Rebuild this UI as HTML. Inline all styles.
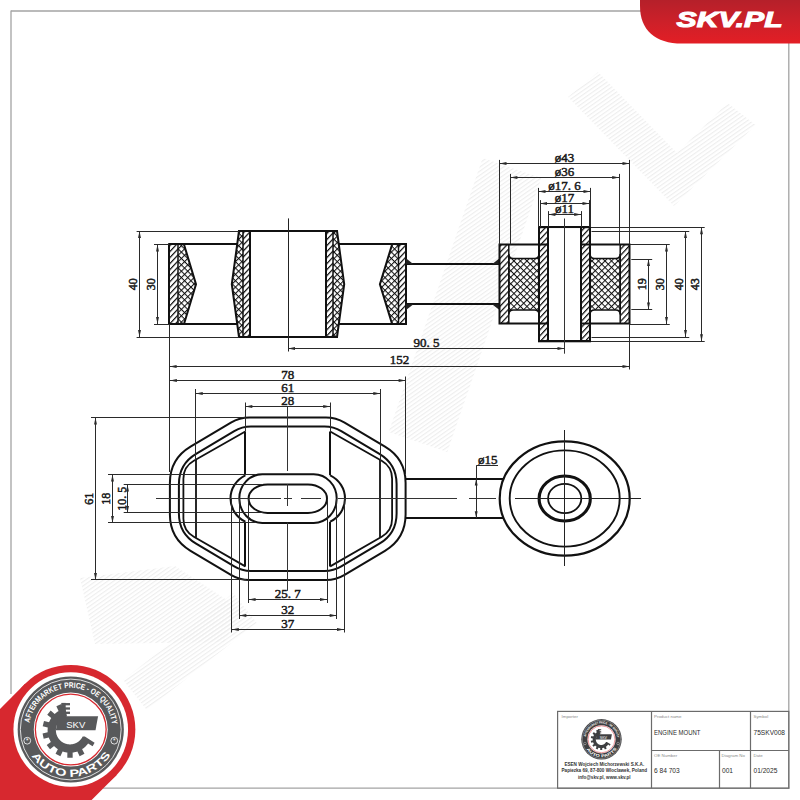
<!DOCTYPE html>
<html><head><meta charset="utf-8"><style>
html,body{margin:0;padding:0;background:#fff;}
svg{display:block;}
</style></head><body>
<svg width="800" height="800" viewBox="0 0 800 800">
<defs>
<pattern id="hatch" patternUnits="userSpaceOnUse" width="4.1" height="4.1" patternTransform="rotate(43)">
<rect width="4.1" height="4.1" fill="#fff"/><line x1="0.6" y1="0" x2="0.6" y2="4.1" stroke="#111" stroke-width="1.25"/></pattern>
<pattern id="xh1" patternUnits="userSpaceOnUse" width="4.5" height="4.5" patternTransform="rotate(45)">
<rect width="4.5" height="4.5" fill="#fff"/><line x1="0.5" y1="0" x2="0.5" y2="4.5" stroke="#111" stroke-width="1.1"/><line x1="0" y1="0.5" x2="4.5" y2="0.5" stroke="#111" stroke-width="1.1"/></pattern>
<pattern id="xh2" patternUnits="userSpaceOnUse" width="4.6" height="4.6" patternTransform="rotate(45)">
<rect width="4.6" height="4.6" fill="#fff"/><line x1="0.5" y1="0" x2="0.5" y2="4.6" stroke="#111" stroke-width="1.05"/><line x1="0" y1="0.5" x2="4.6" y2="0.5" stroke="#111" stroke-width="1.05"/></pattern>
<pattern id="wm" patternUnits="userSpaceOnUse" width="3.4" height="3.4" patternTransform="rotate(55)">
<line x1="0.6" y1="0" x2="0.6" y2="3.4" stroke="#ededed" stroke-width="1.1"/></pattern>
<linearGradient id="redg" x1="0" y1="0" x2="0" y2="1">
<stop offset="0" stop-color="#b5202a"/><stop offset="0.55" stop-color="#cf2029"/><stop offset="1" stop-color="#e31e25"/></linearGradient>
</defs>
<rect width="800" height="800" fill="#fff"/>
<polygon points="568,97 598,72 677,153 727.5,103 755.6,125 674,206" fill="url(#wm)"/>
<polyline points="512,168 418,442" fill="none" stroke="url(#wm)" stroke-width="62"/>
<polygon points="80,578 175,566 242,610 224,642 95,644" fill="url(#wm)"/>
<polyline points="135,695 245,608" fill="none" stroke="url(#wm)" stroke-width="38"/>
<line x1="11.00" y1="11.00" x2="641.00" y2="11.00" stroke="#a3a3a3" stroke-width="1.3" />
<line x1="11.00" y1="10.40" x2="11.00" y2="694.00" stroke="#a3a3a3" stroke-width="1.3" />
<line x1="788.80" y1="43.00" x2="788.80" y2="788.60" stroke="#a3a3a3" stroke-width="1.3" />
<line x1="103.00" y1="788.20" x2="789.40" y2="788.20" stroke="#a3a3a3" stroke-width="1.3" />
<path d="M640,0 L800,0 L800,43.6 L682,43.6 C655,43.6 640,30 640,6 Z" fill="url(#redg)"/>
<text x="729.6" y="27.2" font-size="22.8" font-weight="bold" font-style="italic" fill="#fff" stroke="#fff" stroke-width="1.1" text-anchor="middle" style="font-family:&quot;Liberation Sans&quot;,sans-serif" textLength="106" lengthAdjust="spacingAndGlyphs">SKV.PL</text>
<rect x="169.4" y="244.5" width="8.6" height="79.5" fill="url(#hatch)"/>
<polygon points="178.00,244.50 184.00,244.50 196.00,284.20 184.00,324.00 178.00,324.00" fill="url(#xh1)" stroke="none" stroke-width="0"/>
<line x1="169.00" y1="243.50" x2="169.00" y2="325.00" stroke="#111" stroke-width="2.0" />
<line x1="178.00" y1="244.50" x2="178.00" y2="324.00" stroke="#111" stroke-width="1.5" />
<path d="M184,244.5 L196,284.2 L184,324" stroke="#111" stroke-width="2.0" fill="none" />
<line x1="168.40" y1="244.00" x2="237.30" y2="244.00" stroke="#111" stroke-width="2.0" />
<line x1="168.40" y1="324.00" x2="237.30" y2="324.00" stroke="#111" stroke-width="2.0" />
<polygon points="239.00,231.00 243.00,231.00 243.00,337.00 239.00,337.00 231.80,284.20" fill="url(#xh1)" stroke="none" stroke-width="0"/>
<rect x="243" y="231" width="6.5" height="106" fill="url(#hatch)"/>
<rect x="326.5" y="231" width="6.5" height="106" fill="url(#hatch)"/>
<polygon points="333.00,231.00 337.00,231.00 344.20,284.20 337.00,337.00 333.00,337.00" fill="url(#xh1)" stroke="none" stroke-width="0"/>
<path d="M239,231 L231.8,284.2 L239,337" stroke="#111" stroke-width="2.0" fill="none" />
<path d="M337,231 L344.2,284.2 L337,337" stroke="#111" stroke-width="2.0" fill="none" />
<line x1="238.00" y1="231.00" x2="338.00" y2="231.00" stroke="#111" stroke-width="2.0" />
<line x1="238.00" y1="337.00" x2="338.00" y2="337.00" stroke="#111" stroke-width="2.0" />
<line x1="243.00" y1="231.00" x2="243.00" y2="337.00" stroke="#111" stroke-width="1.5" />
<line x1="333.00" y1="231.00" x2="333.00" y2="337.00" stroke="#111" stroke-width="1.5" />
<line x1="250.00" y1="231.00" x2="250.00" y2="337.00" stroke="#111" stroke-width="2.0" />
<line x1="326.00" y1="231.00" x2="326.00" y2="337.00" stroke="#111" stroke-width="2.0" />
<polygon points="392.10,244.50 398.50,244.50 398.50,324.00 392.10,324.00 379.90,284.20" fill="url(#xh1)" stroke="none" stroke-width="0"/>
<rect x="398.5" y="244.5" width="7.5" height="79.5" fill="url(#hatch)"/>
<path d="M392.1,244.5 L379.9,284.2 L392.1,324" stroke="#111" stroke-width="2.0" fill="none" />
<line x1="398.50" y1="244.50" x2="398.50" y2="324.00" stroke="#111" stroke-width="1.5" />
<line x1="338.80" y1="244.00" x2="407.00" y2="244.00" stroke="#111" stroke-width="2.0" />
<line x1="338.80" y1="324.00" x2="407.00" y2="324.00" stroke="#111" stroke-width="2.0" />
<line x1="406.00" y1="243.50" x2="406.00" y2="325.00" stroke="#111" stroke-width="2.0" />
<line x1="406.00" y1="264.00" x2="499.50" y2="264.00" stroke="#111" stroke-width="2.0" />
<line x1="406.00" y1="304.00" x2="499.50" y2="304.00" stroke="#111" stroke-width="2.0" />
<polygon points="406.00,258.30 406.00,264.20 413.50,264.20" fill="#222" stroke="none" stroke-width="0"/>
<polygon points="406.00,310.10 406.00,304.20 413.50,304.20" fill="#222" stroke="none" stroke-width="0"/>
<polygon points="499.50,258.30 499.50,264.20 492.00,264.20" fill="#222" stroke="none" stroke-width="0"/>
<polygon points="499.50,310.10 499.50,304.20 492.00,304.20" fill="#222" stroke="none" stroke-width="0"/>
<rect x="499.5" y="244.5" width="9.3" height="79" fill="url(#hatch)"/>
<rect x="620.2" y="244.5" width="9.3" height="79" fill="url(#hatch)"/>
<rect x="539" y="227.2" width="9.2" height="114.1" fill="url(#hatch)"/>
<rect x="580.8" y="227.2" width="9.2" height="114.1" fill="url(#hatch)"/>
<path d="M508.8,254 Q508.8,258.5 513.3,258.5 L534.5,258.5 Q539,258.5 539,254 L539,314.5 Q539,310 534.5,310 L513.3,310 Q508.8,310 508.8,314.5 Z" fill="url(#xh2)" stroke="#111" stroke-width="1.6"/>
<path d="M590,254 Q590,258.5 594.5,258.5 L615.7,258.5 Q620.2,258.5 620.2,254 L620.2,314.5 Q620.2,310 615.7,310 L594.5,310 Q590,310 590,314.5 Z" fill="url(#xh2)" stroke="#111" stroke-width="1.6"/>
<rect x="499.5" y="244.5" width="130" height="79" fill="none" stroke="#111" stroke-width="2"/>
<line x1="508.80" y1="244.50" x2="508.80" y2="323.50" stroke="#111" stroke-width="1.5" />
<line x1="620.20" y1="244.50" x2="620.20" y2="323.50" stroke="#111" stroke-width="1.5" />
<rect x="539" y="227.2" width="51" height="114.1" fill="#fff" fill-opacity="0" stroke="#111" stroke-width="2"/>
<line x1="548.00" y1="227.20" x2="548.00" y2="341.30" stroke="#111" stroke-width="2.0" />
<line x1="581.00" y1="227.20" x2="581.00" y2="341.30" stroke="#111" stroke-width="2.0" />
<rect x="548.2" y="228.2" width="32.6" height="112.1" fill="#fff"/>
<line x1="548.00" y1="227.20" x2="548.00" y2="341.30" stroke="#111" stroke-width="2.0" />
<line x1="581.00" y1="227.20" x2="581.00" y2="341.30" stroke="#111" stroke-width="2.0" />
<line x1="539.00" y1="227.00" x2="590.00" y2="227.00" stroke="#111" stroke-width="2.0" />
<line x1="539.00" y1="341.00" x2="590.00" y2="341.00" stroke="#111" stroke-width="2.0" />
<line x1="288.50" y1="218.40" x2="288.50" y2="351.50" stroke="#222" stroke-width="1.0" />
<line x1="564.50" y1="218.50" x2="564.50" y2="353.70" stroke="#333" stroke-width="1.0" />
<line x1="136.60" y1="231.50" x2="239.00" y2="231.50" stroke="#2a2a2a" stroke-width="1.0" />
<line x1="136.60" y1="337.50" x2="239.00" y2="337.50" stroke="#2a2a2a" stroke-width="1.0" />
<line x1="139.50" y1="231.00" x2="139.50" y2="337.00" stroke="#2a2a2a" stroke-width="1.0" />
<polygon points="139.50,231.00 140.95,238.00 138.05,238.00" fill="#2a2a2a" stroke="none" stroke-width="0"/>
<polygon points="139.50,337.00 138.05,330.00 140.95,330.00" fill="#2a2a2a" stroke="none" stroke-width="0"/>
<line x1="154.00" y1="244.50" x2="169.40" y2="244.50" stroke="#2a2a2a" stroke-width="1.0" />
<line x1="154.00" y1="324.50" x2="169.40" y2="324.50" stroke="#2a2a2a" stroke-width="1.0" />
<line x1="157.50" y1="244.50" x2="157.50" y2="324.00" stroke="#2a2a2a" stroke-width="1.0" />
<polygon points="157.50,244.50 158.95,251.50 156.05,251.50" fill="#2a2a2a" stroke="none" stroke-width="0"/>
<polygon points="157.50,324.00 156.05,317.00 158.95,317.00" fill="#2a2a2a" stroke="none" stroke-width="0"/>
<text x="133.50" y="284.20" font-size="12" text-anchor="middle" fill="#1a1a1a" stroke="#1a1a1a" stroke-width="0.5" style="font-family:&quot;Liberation Serif&quot;,serif" transform="rotate(-90 133.50 284.20)" dominant-baseline="central">40</text>
<text x="151.50" y="284.20" font-size="12" text-anchor="middle" fill="#1a1a1a" stroke="#1a1a1a" stroke-width="0.5" style="font-family:&quot;Liberation Serif&quot;,serif" transform="rotate(-90 151.50 284.20)" dominant-baseline="central">30</text>
<line x1="288.00" y1="348.50" x2="564.50" y2="348.50" stroke="#2a2a2a" stroke-width="1.0" />
<polygon points="288.00,348.50 295.00,347.05 295.00,349.95" fill="#2a2a2a" stroke="none" stroke-width="0"/>
<polygon points="564.50,348.50 557.50,349.95 557.50,347.05" fill="#2a2a2a" stroke="none" stroke-width="0"/>
<line x1="169.60" y1="366.50" x2="629.50" y2="366.50" stroke="#2a2a2a" stroke-width="1.0" />
<polygon points="169.60,366.50 176.60,365.05 176.60,367.95" fill="#2a2a2a" stroke="none" stroke-width="0"/>
<polygon points="629.50,366.50 622.50,367.95 622.50,365.05" fill="#2a2a2a" stroke="none" stroke-width="0"/>
<line x1="169.50" y1="324.00" x2="169.50" y2="472.00" stroke="#2a2a2a" stroke-width="1.0" />
<line x1="629.50" y1="323.50" x2="629.50" y2="369.50" stroke="#2a2a2a" stroke-width="1.0" />
<text x="426.50" y="346.70" font-size="13" text-anchor="middle" fill="#1a1a1a" stroke="#1a1a1a" stroke-width="0.5" style="font-family:&quot;Liberation Serif&quot;,serif" >90. 5</text>
<text x="399.60" y="364.30" font-size="13" text-anchor="middle" fill="#1a1a1a" stroke="#1a1a1a" stroke-width="0.5" style="font-family:&quot;Liberation Serif&quot;,serif" >152</text>
<line x1="499.50" y1="163.50" x2="629.50" y2="163.50" stroke="#2a2a2a" stroke-width="1.0" />
<polygon points="499.50,163.50 506.50,162.05 506.50,164.95" fill="#2a2a2a" stroke="none" stroke-width="0"/>
<polygon points="629.50,163.50 622.50,164.95 622.50,162.05" fill="#2a2a2a" stroke="none" stroke-width="0"/>
<line x1="499.50" y1="159.90" x2="499.50" y2="244.50" stroke="#2a2a2a" stroke-width="1.0" />
<line x1="629.50" y1="159.90" x2="629.50" y2="244.50" stroke="#2a2a2a" stroke-width="1.0" />
<text x="564.50" y="162.30" font-size="13" text-anchor="middle" fill="#1a1a1a" stroke="#1a1a1a" stroke-width="0.5" style="font-family:&quot;Liberation Serif&quot;,serif" >ø43</text>
<line x1="510.40" y1="177.50" x2="619.20" y2="177.50" stroke="#2a2a2a" stroke-width="1.0" />
<polygon points="510.40,177.50 517.40,176.05 517.40,178.95" fill="#2a2a2a" stroke="none" stroke-width="0"/>
<polygon points="619.20,177.50 612.20,178.95 612.20,176.05" fill="#2a2a2a" stroke="none" stroke-width="0"/>
<line x1="510.50" y1="173.90" x2="510.50" y2="244.50" stroke="#2a2a2a" stroke-width="1.0" />
<line x1="619.50" y1="173.90" x2="619.50" y2="244.50" stroke="#2a2a2a" stroke-width="1.0" />
<text x="564.50" y="175.70" font-size="13" text-anchor="middle" fill="#1a1a1a" stroke="#1a1a1a" stroke-width="0.5" style="font-family:&quot;Liberation Serif&quot;,serif" >ø36</text>
<line x1="538.50" y1="191.50" x2="590.50" y2="191.50" stroke="#2a2a2a" stroke-width="1.0" />
<polygon points="538.50,191.50 545.50,190.05 545.50,192.95" fill="#2a2a2a" stroke="none" stroke-width="0"/>
<polygon points="590.50,191.50 583.50,192.95 583.50,190.05" fill="#2a2a2a" stroke="none" stroke-width="0"/>
<line x1="538.50" y1="187.90" x2="538.50" y2="227.20" stroke="#2a2a2a" stroke-width="1.0" />
<line x1="590.50" y1="187.90" x2="590.50" y2="227.20" stroke="#2a2a2a" stroke-width="1.0" />
<text x="564.50" y="189.70" font-size="13" text-anchor="middle" fill="#1a1a1a" stroke="#1a1a1a" stroke-width="0.5" style="font-family:&quot;Liberation Serif&quot;,serif" >ø17. 6</text>
<line x1="540.00" y1="203.50" x2="589.50" y2="203.50" stroke="#2a2a2a" stroke-width="1.0" />
<polygon points="540.00,203.50 547.00,202.05 547.00,204.95" fill="#2a2a2a" stroke="none" stroke-width="0"/>
<polygon points="589.50,203.50 582.50,204.95 582.50,202.05" fill="#2a2a2a" stroke="none" stroke-width="0"/>
<line x1="540.50" y1="200.10" x2="540.50" y2="227.20" stroke="#2a2a2a" stroke-width="1.0" />
<line x1="589.50" y1="200.10" x2="589.50" y2="227.20" stroke="#2a2a2a" stroke-width="1.0" />
<text x="564.50" y="202.00" font-size="13" text-anchor="middle" fill="#1a1a1a" stroke="#1a1a1a" stroke-width="0.5" style="font-family:&quot;Liberation Serif&quot;,serif" >ø17</text>
<line x1="548.40" y1="214.50" x2="581.20" y2="214.50" stroke="#2a2a2a" stroke-width="1.0" />
<polygon points="548.40,214.50 555.40,213.05 555.40,215.95" fill="#2a2a2a" stroke="none" stroke-width="0"/>
<polygon points="581.20,214.50 574.20,215.95 574.20,213.05" fill="#2a2a2a" stroke="none" stroke-width="0"/>
<line x1="548.50" y1="211.10" x2="548.50" y2="227.20" stroke="#2a2a2a" stroke-width="1.0" />
<line x1="581.50" y1="211.10" x2="581.50" y2="227.20" stroke="#2a2a2a" stroke-width="1.0" />
<text x="564.50" y="213.30" font-size="13" text-anchor="middle" fill="#1a1a1a" stroke="#1a1a1a" stroke-width="0.5" style="font-family:&quot;Liberation Serif&quot;,serif" >ø11</text>
<line x1="631.30" y1="259.50" x2="652.20" y2="259.50" stroke="#2a2a2a" stroke-width="1.0" />
<line x1="631.30" y1="309.50" x2="652.20" y2="309.50" stroke="#2a2a2a" stroke-width="1.0" />
<line x1="648.50" y1="259.00" x2="648.50" y2="309.40" stroke="#2a2a2a" stroke-width="1.0" />
<polygon points="648.50,259.00 649.95,266.00 647.05,266.00" fill="#2a2a2a" stroke="none" stroke-width="0"/>
<polygon points="648.50,309.40 647.05,302.40 649.95,302.40" fill="#2a2a2a" stroke="none" stroke-width="0"/>
<text x="641.80" y="284.20" font-size="12" text-anchor="middle" fill="#1a1a1a" stroke="#1a1a1a" stroke-width="0.5" style="font-family:&quot;Liberation Serif&quot;,serif" transform="rotate(-90 641.80 284.20)" dominant-baseline="central">19</text>
<line x1="630.00" y1="244.50" x2="669.75" y2="244.50" stroke="#2a2a2a" stroke-width="1.0" />
<line x1="630.00" y1="324.50" x2="669.75" y2="324.50" stroke="#2a2a2a" stroke-width="1.0" />
<line x1="666.50" y1="244.40" x2="666.50" y2="324.00" stroke="#2a2a2a" stroke-width="1.0" />
<polygon points="666.50,244.40 667.95,251.40 665.05,251.40" fill="#2a2a2a" stroke="none" stroke-width="0"/>
<polygon points="666.50,324.00 665.05,317.00 667.95,317.00" fill="#2a2a2a" stroke="none" stroke-width="0"/>
<text x="659.70" y="284.20" font-size="12" text-anchor="middle" fill="#1a1a1a" stroke="#1a1a1a" stroke-width="0.5" style="font-family:&quot;Liberation Serif&quot;,serif" transform="rotate(-90 659.70 284.20)" dominant-baseline="central">30</text>
<line x1="591.50" y1="231.50" x2="689.25" y2="231.50" stroke="#2a2a2a" stroke-width="1.0" />
<line x1="591.50" y1="337.50" x2="689.25" y2="337.50" stroke="#2a2a2a" stroke-width="1.0" />
<line x1="685.50" y1="231.00" x2="685.50" y2="337.00" stroke="#2a2a2a" stroke-width="1.0" />
<polygon points="685.50,231.00 686.95,238.00 684.05,238.00" fill="#2a2a2a" stroke="none" stroke-width="0"/>
<polygon points="685.50,337.00 684.05,330.00 686.95,330.00" fill="#2a2a2a" stroke="none" stroke-width="0"/>
<text x="679.10" y="284.20" font-size="12" text-anchor="middle" fill="#1a1a1a" stroke="#1a1a1a" stroke-width="0.5" style="font-family:&quot;Liberation Serif&quot;,serif" transform="rotate(-90 679.10 284.20)" dominant-baseline="central">40</text>
<line x1="591.00" y1="227.50" x2="704.70" y2="227.50" stroke="#2a2a2a" stroke-width="1.0" />
<line x1="591.00" y1="341.50" x2="704.70" y2="341.50" stroke="#2a2a2a" stroke-width="1.0" />
<line x1="701.50" y1="227.30" x2="701.50" y2="341.20" stroke="#2a2a2a" stroke-width="1.0" />
<polygon points="701.50,227.30 702.95,234.30 700.05,234.30" fill="#2a2a2a" stroke="none" stroke-width="0"/>
<polygon points="701.50,341.20 700.05,334.20 702.95,334.20" fill="#2a2a2a" stroke="none" stroke-width="0"/>
<text x="695.40" y="284.20" font-size="12" text-anchor="middle" fill="#1a1a1a" stroke="#1a1a1a" stroke-width="0.5" style="font-family:&quot;Liberation Serif&quot;,serif" transform="rotate(-90 695.40 284.20)" dominant-baseline="central">43</text>
<path d="M230.91,422.71 Q239.50,417.60 249.50,417.60 L326.00,417.60 Q336.00,417.60 344.59,422.71 L384.97,446.73 Q405.60,459.00 405.60,483.00 L405.60,514.50 Q405.60,538.50 384.97,550.77 L344.59,574.79 Q336.00,579.90 326.00,579.90 L249.50,579.90 Q239.50,579.90 230.91,574.79 L190.53,550.77 Q169.90,538.50 169.90,514.50 L169.90,483.00 Q169.90,459.00 190.53,446.73 Z" stroke="#111" stroke-width="2.0" fill="none" />
<path d="M234.24,431.20 Q241.97,426.60 250.97,426.60 L324.53,426.60 Q333.53,426.60 341.26,431.20 L379.41,453.89 Q396.60,464.12 396.60,484.12 L396.60,513.38 Q396.60,533.38 379.41,543.61 L341.26,566.30 Q333.53,570.90 324.53,570.90 L250.97,570.90 Q241.97,570.90 234.24,566.30 L196.09,543.61 Q178.90,533.38 178.90,513.38 L178.90,484.12 Q178.90,464.12 196.09,453.89 Z" stroke="#111" stroke-width="2.0" fill="none" />
<path d="M245.30,431.50 L193.83,460.75 Q183.40,466.68 183.40,478.68 L183.40,518.82 Q183.40,530.82 193.80,536.80 L245.30,566.40" stroke="#111" stroke-width="1.8" fill="none" />
<line x1="196.00" y1="459.74" x2="196.00" y2="537.83" stroke="#111" stroke-width="1.8" />
<path d="M330.20,431.50 L381.67,460.75 Q392.10,466.68 392.10,478.68 L392.10,518.82 Q392.10,530.82 381.70,536.80 L330.20,566.40" stroke="#111" stroke-width="1.8" fill="none" />
<line x1="380.00" y1="459.74" x2="380.00" y2="537.83" stroke="#111" stroke-width="1.8" />
<line x1="245.00" y1="431.50" x2="245.00" y2="475.30" stroke="#111" stroke-width="2.0" />
<line x1="245.00" y1="521.70" x2="245.00" y2="566.40" stroke="#111" stroke-width="2.0" />
<line x1="330.00" y1="431.50" x2="330.00" y2="475.30" stroke="#111" stroke-width="2.0" />
<line x1="330.00" y1="521.70" x2="330.00" y2="566.40" stroke="#111" stroke-width="2.0" />
<path d="M245.3,475.3 A27,26 0 0 0 245.3,521.7" stroke="#111" stroke-width="2.0" fill="none" />
<path d="M330.2,475.3 A27,26 0 0 1 330.2,521.7" stroke="#111" stroke-width="2.0" fill="none" />
<path d="M262.30,474.30 L313.70,474.30 A23,24.299999999999983 0 0 1 313.70,522.90 L262.30,522.90 A23,24.299999999999983 0 0 1 262.30,474.30 Z" stroke="#111" stroke-width="2.0" fill="none" />
<path d="M267.60,484.40 L308.00,484.40 A19,14.25 0 0 1 308.00,512.90 L267.60,512.90 A19,14.25 0 0 1 267.60,484.40 Z" stroke="#111" stroke-width="2.0" fill="none" />
<line x1="405.60" y1="479.00" x2="503.00" y2="479.00" stroke="#111" stroke-width="2.0" />
<line x1="405.60" y1="518.00" x2="503.00" y2="518.00" stroke="#111" stroke-width="2.0" />
<ellipse cx="564.7" cy="498.5" rx="65" ry="57.2" fill="#fff" stroke="#111" stroke-width="2.2"/>
<ellipse cx="564.7" cy="498.5" rx="55" ry="48.1" fill="none" stroke="#111" stroke-width="1.9"/>
<ellipse cx="564.7" cy="498.5" rx="25.6" ry="22.5" fill="none" stroke="#111" stroke-width="3.1"/>
<ellipse cx="564.7" cy="498.5" rx="16.6" ry="14.6" fill="none" stroke="#111" stroke-width="1.8"/>
<line x1="564.50" y1="430.00" x2="564.50" y2="566.00" stroke="#222" stroke-width="1.0" />
<line x1="515.00" y1="498.50" x2="641.00" y2="498.50" stroke="#222" stroke-width="1.0" />
<line x1="156.00" y1="498.50" x2="281.00" y2="498.50" stroke="#333" stroke-width="1.0" />
<line x1="284.00" y1="498.50" x2="292.00" y2="498.50" stroke="#333" stroke-width="1.0" />
<line x1="301.00" y1="498.50" x2="321.00" y2="498.50" stroke="#333" stroke-width="1.0" />
<line x1="338.00" y1="498.50" x2="457.00" y2="498.50" stroke="#333" stroke-width="1.0" />
<line x1="469.00" y1="498.50" x2="496.00" y2="498.50" stroke="#333" stroke-width="1.0" />
<line x1="287.50" y1="406.00" x2="287.50" y2="471.00" stroke="#333" stroke-width="1.0" />
<line x1="287.50" y1="484.00" x2="287.50" y2="506.00" stroke="#333" stroke-width="1.0" />
<line x1="287.50" y1="522.50" x2="287.50" y2="590.80" stroke="#333" stroke-width="1.0" />
<line x1="169.90" y1="380.50" x2="405.60" y2="380.50" stroke="#2a2a2a" stroke-width="1.0" />
<polygon points="169.90,380.50 176.90,379.05 176.90,381.95" fill="#2a2a2a" stroke="none" stroke-width="0"/>
<polygon points="405.60,380.50 398.60,381.95 398.60,379.05" fill="#2a2a2a" stroke="none" stroke-width="0"/>
<line x1="405.50" y1="376.50" x2="405.50" y2="474.00" stroke="#2a2a2a" stroke-width="1.0" />
<line x1="195.75" y1="393.50" x2="380.30" y2="393.50" stroke="#2a2a2a" stroke-width="1.0" />
<polygon points="195.75,393.50 202.75,392.05 202.75,394.95" fill="#2a2a2a" stroke="none" stroke-width="0"/>
<polygon points="380.30,393.50 373.30,394.95 373.30,392.05" fill="#2a2a2a" stroke="none" stroke-width="0"/>
<line x1="195.50" y1="389.00" x2="195.50" y2="460.00" stroke="#2a2a2a" stroke-width="1.0" />
<line x1="380.50" y1="389.00" x2="380.50" y2="461.00" stroke="#2a2a2a" stroke-width="1.0" />
<line x1="245.30" y1="406.50" x2="330.20" y2="406.50" stroke="#2a2a2a" stroke-width="1.0" />
<polygon points="245.30,406.50 252.30,405.05 252.30,407.95" fill="#2a2a2a" stroke="none" stroke-width="0"/>
<polygon points="330.20,406.50 323.20,407.95 323.20,405.05" fill="#2a2a2a" stroke="none" stroke-width="0"/>
<line x1="245.50" y1="402.50" x2="245.50" y2="431.50" stroke="#2a2a2a" stroke-width="1.0" />
<line x1="330.50" y1="402.50" x2="330.50" y2="431.50" stroke="#2a2a2a" stroke-width="1.0" />
<text x="287.75" y="379.00" font-size="13" text-anchor="middle" fill="#1a1a1a" stroke="#1a1a1a" stroke-width="0.5" style="font-family:&quot;Liberation Serif&quot;,serif" >78</text>
<text x="287.75" y="391.90" font-size="13" text-anchor="middle" fill="#1a1a1a" stroke="#1a1a1a" stroke-width="0.5" style="font-family:&quot;Liberation Serif&quot;,serif" >61</text>
<text x="287.75" y="405.00" font-size="13" text-anchor="middle" fill="#1a1a1a" stroke="#1a1a1a" stroke-width="0.5" style="font-family:&quot;Liberation Serif&quot;,serif" >28</text>
<line x1="91.00" y1="417.50" x2="246.00" y2="417.50" stroke="#2a2a2a" stroke-width="1.0" />
<line x1="91.00" y1="579.50" x2="246.00" y2="579.50" stroke="#2a2a2a" stroke-width="1.0" />
<line x1="95.50" y1="417.60" x2="95.50" y2="579.90" stroke="#2a2a2a" stroke-width="1.0" />
<polygon points="95.50,417.60 96.95,424.60 94.05,424.60" fill="#2a2a2a" stroke="none" stroke-width="0"/>
<polygon points="95.50,579.90 94.05,572.90 96.95,572.90" fill="#2a2a2a" stroke="none" stroke-width="0"/>
<line x1="108.00" y1="474.50" x2="256.00" y2="474.50" stroke="#2a2a2a" stroke-width="1.0" />
<line x1="108.00" y1="522.50" x2="256.00" y2="522.50" stroke="#2a2a2a" stroke-width="1.0" />
<line x1="112.50" y1="474.40" x2="112.50" y2="522.90" stroke="#2a2a2a" stroke-width="1.0" />
<polygon points="112.50,474.40 113.95,481.40 111.05,481.40" fill="#2a2a2a" stroke="none" stroke-width="0"/>
<polygon points="112.50,522.90 111.05,515.90 113.95,515.90" fill="#2a2a2a" stroke="none" stroke-width="0"/>
<line x1="123.70" y1="484.50" x2="263.00" y2="484.50" stroke="#2a2a2a" stroke-width="1.0" />
<line x1="123.70" y1="512.50" x2="263.00" y2="512.50" stroke="#2a2a2a" stroke-width="1.0" />
<line x1="127.50" y1="484.40" x2="127.50" y2="512.90" stroke="#2a2a2a" stroke-width="1.0" />
<polygon points="127.50,484.40 128.95,491.40 126.05,491.40" fill="#2a2a2a" stroke="none" stroke-width="0"/>
<polygon points="127.50,512.90 126.05,505.90 128.95,505.90" fill="#2a2a2a" stroke="none" stroke-width="0"/>
<text x="88.80" y="498.75" font-size="12" text-anchor="middle" fill="#1a1a1a" stroke="#1a1a1a" stroke-width="0.5" style="font-family:&quot;Liberation Serif&quot;,serif" transform="rotate(-90 88.80 498.75)" dominant-baseline="central">61</text>
<text x="105.70" y="498.75" font-size="12" text-anchor="middle" fill="#1a1a1a" stroke="#1a1a1a" stroke-width="0.5" style="font-family:&quot;Liberation Serif&quot;,serif" transform="rotate(-90 105.70 498.75)" dominant-baseline="central">18</text>
<text x="122.30" y="498.75" font-size="12" text-anchor="middle" fill="#1a1a1a" stroke="#1a1a1a" stroke-width="0.5" style="font-family:&quot;Liberation Serif&quot;,serif" transform="rotate(-90 122.30 498.75)" dominant-baseline="central">10. 5</text>
<line x1="248.50" y1="498.75" x2="248.50" y2="603.00" stroke="#2a2a2a" stroke-width="1.0" />
<line x1="327.50" y1="498.75" x2="327.50" y2="603.00" stroke="#2a2a2a" stroke-width="1.0" />
<line x1="248.60" y1="599.50" x2="327.00" y2="599.50" stroke="#2a2a2a" stroke-width="1.0" />
<polygon points="248.60,599.50 255.60,598.05 255.60,600.95" fill="#2a2a2a" stroke="none" stroke-width="0"/>
<polygon points="327.00,599.50 320.00,600.95 320.00,598.05" fill="#2a2a2a" stroke="none" stroke-width="0"/>
<line x1="239.50" y1="498.75" x2="239.50" y2="619.00" stroke="#2a2a2a" stroke-width="1.0" />
<line x1="336.50" y1="498.75" x2="336.50" y2="619.00" stroke="#2a2a2a" stroke-width="1.0" />
<line x1="239.30" y1="615.50" x2="336.70" y2="615.50" stroke="#2a2a2a" stroke-width="1.0" />
<polygon points="239.30,615.50 246.30,614.05 246.30,616.95" fill="#2a2a2a" stroke="none" stroke-width="0"/>
<polygon points="336.70,615.50 329.70,616.95 329.70,614.05" fill="#2a2a2a" stroke="none" stroke-width="0"/>
<line x1="231.50" y1="498.75" x2="231.50" y2="632.50" stroke="#2a2a2a" stroke-width="1.0" />
<line x1="344.50" y1="498.75" x2="344.50" y2="632.50" stroke="#2a2a2a" stroke-width="1.0" />
<line x1="231.80" y1="629.50" x2="344.00" y2="629.50" stroke="#2a2a2a" stroke-width="1.0" />
<polygon points="231.80,629.50 238.80,628.05 238.80,630.95" fill="#2a2a2a" stroke="none" stroke-width="0"/>
<polygon points="344.00,629.50 337.00,630.95 337.00,628.05" fill="#2a2a2a" stroke="none" stroke-width="0"/>
<text x="287.75" y="598.00" font-size="13" text-anchor="middle" fill="#1a1a1a" stroke="#1a1a1a" stroke-width="0.5" style="font-family:&quot;Liberation Serif&quot;,serif" >25. 7</text>
<text x="287.75" y="613.80" font-size="13" text-anchor="middle" fill="#1a1a1a" stroke="#1a1a1a" stroke-width="0.5" style="font-family:&quot;Liberation Serif&quot;,serif" >32</text>
<text x="287.75" y="627.80" font-size="13" text-anchor="middle" fill="#1a1a1a" stroke="#1a1a1a" stroke-width="0.5" style="font-family:&quot;Liberation Serif&quot;,serif" >37</text>
<line x1="476.50" y1="465.60" x2="476.50" y2="478.60" stroke="#2a2a2a" stroke-width="1.0" />
<line x1="476.20" y1="465.50" x2="498.00" y2="465.50" stroke="#2a2a2a" stroke-width="1.0" />
<line x1="476.50" y1="478.60" x2="476.50" y2="518.20" stroke="#2a2a2a" stroke-width="1.0" />
<polygon points="476.20,478.60 477.65,485.60 474.75,485.60" fill="#2a2a2a" stroke="none" stroke-width="0"/>
<polygon points="476.20,518.20 474.75,511.20 477.65,511.20" fill="#2a2a2a" stroke="none" stroke-width="0"/>
<text x="478.00" y="464.20" font-size="13" text-anchor="start" fill="#1a1a1a" stroke="#1a1a1a" stroke-width="0.5" style="font-family:&quot;Liberation Serif&quot;,serif" >ø15</text>
<circle cx="70.75" cy="729.5" r="64.6" fill="#d7282f"/>
<polygon points="25.07,683.82 -174.93,883.82 -83.57,975.18 116.43,775.18" fill="#d7282f"/>
<circle cx="70.75" cy="729.5" r="57.3" fill="#fff"/>
<circle cx="70.75" cy="729.5" r="53.1" fill="#58595b"/>
<circle cx="70.75" cy="729.5" r="50.4" fill="none" stroke="#fff" stroke-width="0.80"/>
<circle cx="70.75" cy="729.5" r="37.0" fill="#fff"/>
<circle cx="70.75" cy="729.5" r="35.4" fill="none" stroke="#d7282f" stroke-width="1.30"/>
<defs><path id="tpa" d="M29.66,722.99 A41.60,41.60 0 0 1 112.04,724.43"/><path id="bpa" d="M31.54,755.95 A47.30,47.30 0 0 0 110.42,755.26"/></defs>
<text font-size="8.00" fill="#fff" font-weight="bold" style="font-family:&quot;Liberation Sans&quot;,sans-serif"><textPath href="#tpa" textLength="119.1" lengthAdjust="spacingAndGlyphs">AFTERMARKET PRICE - OE QUALITY</textPath></text>
<text font-size="10.40" fill="#fff" font-weight="bold" style="font-family:&quot;Liberation Sans&quot;,sans-serif"><textPath href="#bpa" textLength="93.3" lengthAdjust="spacingAndGlyphs">AUTO PARTS</textPath></text>
<circle cx="27.25" cy="740.70" r="3.40" fill="none" stroke="#fff" stroke-width="0.80"/>
<text x="27.25" y="743.40" font-size="6.50" fill="#fff" text-anchor="middle" style="font-family:&quot;Liberation Sans&quot;,sans-serif">*</text>
<circle cx="114.25" cy="740.70" r="3.40" fill="none" stroke="#fff" stroke-width="0.80"/>
<text x="114.25" y="743.40" font-size="6.50" fill="#fff" text-anchor="middle" style="font-family:&quot;Liberation Sans&quot;,sans-serif">*</text>
<path d="M84.82,736.59 L94.59,742.83 L92.61,746.13 L88.12,743.47 L88.12,743.47 L87.65,744.09 L87.16,744.70 L86.65,745.29 L86.11,745.86 L85.56,746.41 L84.99,746.95 L84.40,747.46 L83.79,747.95 L83.17,748.42 L82.53,748.87 L82.13,749.13 L84.46,753.81 L79.62,756.17 L77.37,751.45 L77.37,751.45 L76.62,751.70 L75.87,751.92 L75.12,752.11 L74.35,752.27 L73.58,752.41 L72.81,752.52 L72.65,752.54 L72.69,757.77 L67.31,757.77 L67.35,752.54 L67.35,752.54 L66.57,752.44 L65.80,752.30 L65.04,752.14 L64.28,751.96 L63.53,751.74 L62.78,751.50 L62.63,751.45 L60.38,756.17 L55.54,753.81 L57.87,749.13 L57.87,749.13 L57.22,748.69 L56.58,748.24 L55.96,747.76 L55.36,747.26 L54.78,746.74 L54.22,746.19 L54.11,746.08 L50.01,749.33 L46.70,745.09 L50.84,741.90 L50.84,741.90 L50.45,741.23 L50.08,740.54 L49.73,739.84 L49.41,739.12 L49.12,738.40 L48.85,737.67 L48.80,737.52 L43.69,738.65 L42.57,733.38 L47.69,732.33 L47.69,732.33 L47.63,731.55 L47.60,730.77 L47.60,729.99 L47.63,729.21 L47.68,728.43 L47.76,727.65 L47.78,727.49 L42.70,726.27 L44.00,721.04 L49.06,722.35 L49.06,722.35 L49.35,721.62 L49.67,720.90 L50.01,720.20 L50.37,719.51 L50.76,718.83 L51.17,718.17 L51.26,718.03 L47.23,714.71 L50.69,710.58 L54.67,713.97 L54.67,713.97 L55.25,713.45 L55.84,712.94 L56.46,712.46 L57.09,712.00 L57.73,711.56 L58.40,711.14 L58.53,711.06 L56.37,706.30 L61.29,704.11 L63.38,708.90 L63.38,708.90 L64.13,708.68 L64.88,708.49 L65.34,708.39 L67.07,716.51 L66.59,716.62 L66.11,716.75 L65.64,716.89 L65.18,717.05 L64.72,717.23 L64.27,717.42 L63.82,717.63 L63.38,717.85 L62.95,718.09 L62.53,718.34 L62.12,718.61 L61.71,718.89 L61.32,719.19 L60.94,719.50 L60.57,719.82 L60.21,720.16 L59.86,720.51 L59.52,720.87 L59.20,721.24 L58.89,721.62 L58.59,722.01 L58.31,722.42 L58.04,722.83 L57.79,723.25 L57.55,723.68 L57.33,724.12 L57.12,724.57 L56.93,725.02 L56.75,725.48 L56.59,725.94 L56.45,726.41 L56.32,726.89 L56.21,727.37 L56.11,727.85 L56.04,728.34 L55.98,728.83 L55.93,729.32 L55.91,729.81 L55.90,730.30 L55.91,730.79 L55.93,731.28 L55.98,731.77 L56.04,732.26 L56.11,732.75 L56.21,733.23 L56.32,733.71 L56.45,734.19 L56.59,734.66 L56.75,735.12 L56.93,735.58 L57.12,736.03 L57.33,736.48 L57.55,736.92 L57.79,737.35 L58.04,737.77 L58.31,738.18 L58.59,738.59 L58.89,738.98 L59.20,739.36 L59.52,739.73 L59.86,740.09 L60.21,740.44 L60.57,740.78 L60.94,741.10 L61.32,741.41 L61.71,741.71 L62.12,741.99 L62.53,742.26 L62.95,742.51 L63.38,742.75 L63.82,742.97 L64.27,743.18 L64.72,743.37 L65.18,743.55 L65.64,743.71 L66.11,743.85 L66.59,743.98 L67.07,744.09 L67.55,744.19 L68.04,744.26 L68.53,744.32 L69.02,744.37 L69.51,744.39 L70.00,744.40 L70.49,744.39 L70.98,744.37 L71.47,744.32 L71.96,744.26 L72.45,744.19 L72.93,744.09 L73.41,743.98 L73.89,743.85 L74.36,743.71 L74.82,743.55 L75.28,743.37 L75.73,743.18 L76.18,742.97 L76.62,742.75 L77.05,742.51 L77.47,742.26 L77.88,741.99 L78.29,741.71 L78.68,741.41 L79.06,741.10 L79.43,740.78 L79.79,740.44 L80.14,740.09 L80.48,739.73 L80.80,739.36 L81.11,738.98 L81.41,738.59 L81.69,738.18 L81.96,737.77 L82.21,737.35 L82.45,736.92 L82.67,736.48 Z" fill="#58595b"/>
<rect x="61.50" y="702.90" width="4.20" height="15.00" fill="#58595b"/>
<rect x="61.50" y="703.05" width="8.50" height="2.30" fill="#58595b"/>
<rect x="61.50" y="707.35" width="8.50" height="2.30" fill="#58595b"/>
<rect x="61.50" y="711.65" width="8.50" height="2.30" fill="#58595b"/>
<polygon points="58.00,716.20 98.10,716.20 95.50,730.30 55.90,730.30" fill="#58595b"/>
<text x="75.80" y="728.00" font-size="9.90" fill="#fff" text-anchor="middle" style="font-family:&quot;Liberation Sans&quot;,sans-serif" textLength="19.10" lengthAdjust="spacingAndGlyphs">SKV</text>
<rect x="557.6" y="711.4" width="231.2" height="76.8" fill="none" stroke="#6b6b6b" stroke-width="1.2"/>
<line x1="651.50" y1="711.40" x2="651.50" y2="788.20" stroke="#6b6b6b" stroke-width="1.2" />
<line x1="750.50" y1="711.40" x2="750.50" y2="788.20" stroke="#6b6b6b" stroke-width="1.2" />
<line x1="651.00" y1="750.50" x2="788.80" y2="750.50" stroke="#6b6b6b" stroke-width="1.2" />
<line x1="719.50" y1="750.00" x2="719.50" y2="788.20" stroke="#6b6b6b" stroke-width="1.2" />
<text x="561.5" y="718.3" font-size="4.4" fill="#8a8a8a" text-anchor="start" style="font-family:&quot;Liberation Sans&quot;,sans-serif">Importer</text>
<text x="654" y="718.3" font-size="4.4" fill="#8a8a8a" text-anchor="start" textLength="27.5" lengthAdjust="spacingAndGlyphs" style="font-family:&quot;Liberation Sans&quot;,sans-serif">Product name</text>
<text x="753.5" y="718.3" font-size="4.4" fill="#8a8a8a" text-anchor="start" style="font-family:&quot;Liberation Sans&quot;,sans-serif">Symbol</text>
<text x="654" y="757" font-size="4.4" fill="#8a8a8a" text-anchor="start" style="font-family:&quot;Liberation Sans&quot;,sans-serif">OE Number</text>
<text x="721.5" y="757" font-size="4.4" fill="#8a8a8a" text-anchor="start" style="font-family:&quot;Liberation Sans&quot;,sans-serif">Diagram No</text>
<text x="753.5" y="757" font-size="4.4" fill="#8a8a8a" text-anchor="start" style="font-family:&quot;Liberation Sans&quot;,sans-serif">Date</text>
<text x="654" y="734.5" font-size="6.6" fill="#2a2a2a" text-anchor="start" textLength="46.4" lengthAdjust="spacingAndGlyphs" style="font-family:&quot;Liberation Sans&quot;,sans-serif">ENGINE MOUNT</text>
<text x="753.5" y="734.5" font-size="6.6" fill="#2a2a2a" text-anchor="start" style="font-family:&quot;Liberation Sans&quot;,sans-serif">75SKV008</text>
<text x="654" y="772.6" font-size="6.6" fill="#2a2a2a" text-anchor="start" style="font-family:&quot;Liberation Sans&quot;,sans-serif">6 84 703</text>
<text x="722" y="772.6" font-size="6.6" fill="#2a2a2a" text-anchor="start" style="font-family:&quot;Liberation Sans&quot;,sans-serif">001</text>
<text x="753.5" y="772.6" font-size="6.6" fill="#2a2a2a" text-anchor="start" style="font-family:&quot;Liberation Sans&quot;,sans-serif">01/2025</text>
<text x="604.3" y="765.5" font-size="4.6" fill="#333" text-anchor="middle" font-weight="bold" style="font-family:&quot;Liberation Sans&quot;,sans-serif">ESEN Wojciech Michorzewski S.K.A.</text>
<text x="604.3" y="772.4" font-size="4.6" fill="#333" text-anchor="middle" font-weight="bold" style="font-family:&quot;Liberation Sans&quot;,sans-serif">Papiezka 69, 87-800 Wloclawek, Poland</text>
<text x="604.3" y="779.3" font-size="4.6" fill="#333" text-anchor="middle" font-weight="bold" style="font-family:&quot;Liberation Sans&quot;,sans-serif">info@skv.pl, www.skv.pl</text>
<circle cx="601.5" cy="739.3" r="20.2" fill="#3f3f41"/>
<circle cx="601.5" cy="739.3" r="19.1728813559322" fill="none" stroke="#fff" stroke-width="0.30"/>
<circle cx="601.5" cy="739.3" r="14.07532956685499" fill="#fff"/>
<circle cx="601.5" cy="739.3" r="13.466666666666665" fill="none" stroke="#d7282f" stroke-width="0.49"/>
<defs><path id="tpb" d="M585.87,736.82 A15.83,15.83 0 0 1 617.21,737.37"/><path id="bpb" d="M586.58,749.36 A17.99,17.99 0 0 0 616.59,749.10"/></defs>
<text font-size="3.04" fill="#fff" font-weight="bold" style="font-family:&quot;Liberation Sans&quot;,sans-serif"><textPath href="#tpb" textLength="45.3" lengthAdjust="spacingAndGlyphs">AFTERMARKET PRICE - OE QUALITY</textPath></text>
<text font-size="3.96" fill="#fff" font-weight="bold" style="font-family:&quot;Liberation Sans&quot;,sans-serif"><textPath href="#bpb" textLength="35.5" lengthAdjust="spacingAndGlyphs">AUTO PARTS</textPath></text>
<circle cx="584.95" cy="743.56" r="1.29" fill="none" stroke="#fff" stroke-width="0.30"/>
<text x="584.95" y="744.59" font-size="2.47" fill="#fff" text-anchor="middle" style="font-family:&quot;Liberation Sans&quot;,sans-serif">*</text>
<circle cx="618.05" cy="743.56" r="1.29" fill="none" stroke="#fff" stroke-width="0.30"/>
<text x="618.05" y="744.59" font-size="2.47" fill="#fff" text-anchor="middle" style="font-family:&quot;Liberation Sans&quot;,sans-serif">*</text>
<path d="M606.85,742.00 L610.57,744.37 L609.82,745.63 L608.11,744.61 L608.11,744.61 L607.93,744.85 L607.74,745.08 L607.55,745.31 L607.34,745.52 L607.13,745.73 L606.92,745.94 L606.69,746.13 L606.46,746.32 L606.22,746.50 L605.98,746.67 L605.83,746.77 L606.72,748.55 L604.87,749.45 L604.02,747.65 L604.02,747.65 L603.73,747.74 L603.45,747.83 L603.16,747.90 L602.87,747.96 L602.58,748.02 L602.28,748.06 L602.22,748.07 L602.24,750.05 L600.19,750.05 L600.21,748.07 L600.21,748.07 L599.91,748.03 L599.62,747.97 L599.33,747.91 L599.04,747.84 L598.75,747.76 L598.47,747.67 L598.41,747.65 L597.55,749.45 L595.71,748.55 L596.60,746.77 L596.60,746.77 L596.35,746.60 L596.11,746.43 L595.88,746.25 L595.65,746.05 L595.42,745.86 L595.21,745.65 L595.17,745.61 L593.61,746.84 L592.35,745.23 L593.93,744.02 L593.93,744.02 L593.78,743.76 L593.64,743.50 L593.50,743.23 L593.38,742.96 L593.27,742.69 L593.17,742.41 L593.15,742.35 L591.21,742.78 L590.78,740.77 L592.73,740.38 L592.73,740.38 L592.71,740.08 L592.70,739.78 L592.69,739.49 L592.70,739.19 L592.72,738.89 L592.75,738.60 L592.76,738.54 L590.83,738.07 L591.32,736.08 L593.25,736.58 L593.25,736.58 L593.36,736.30 L593.48,736.03 L593.61,735.76 L593.75,735.50 L593.90,735.24 L594.05,734.99 L594.08,734.94 L592.55,733.67 L593.87,732.10 L595.38,733.39 L595.38,733.39 L595.60,733.19 L595.83,733.00 L596.06,732.82 L596.30,732.64 L596.55,732.47 L596.80,732.32 L596.85,732.28 L596.03,730.48 L597.90,729.64 L598.69,731.46 L598.69,731.46 L598.98,731.38 L599.27,731.31 L599.44,731.27 L600.10,734.36 L599.92,734.40 L599.74,734.45 L599.56,734.50 L599.38,734.56 L599.21,734.63 L599.03,734.70 L598.86,734.78 L598.70,734.87 L598.53,734.96 L598.37,735.06 L598.22,735.16 L598.06,735.26 L597.91,735.38 L597.77,735.50 L597.63,735.62 L597.49,735.75 L597.36,735.88 L597.23,736.02 L597.11,736.16 L596.99,736.30 L596.88,736.45 L596.77,736.60 L596.67,736.76 L596.57,736.92 L596.48,737.09 L596.39,737.25 L596.31,737.42 L596.24,737.60 L596.17,737.77 L596.11,737.95 L596.06,738.13 L596.01,738.31 L595.97,738.49 L595.93,738.67 L595.90,738.86 L595.88,739.04 L595.86,739.23 L595.85,739.42 L595.85,739.60 L595.85,739.79 L595.86,739.98 L595.88,740.17 L595.90,740.35 L595.93,740.54 L595.97,740.72 L596.01,740.90 L596.06,741.08 L596.11,741.26 L596.17,741.44 L596.24,741.61 L596.31,741.79 L596.39,741.96 L596.48,742.12 L596.57,742.29 L596.67,742.45 L596.77,742.60 L596.88,742.76 L596.99,742.91 L597.11,743.05 L597.23,743.19 L597.36,743.33 L597.49,743.46 L597.63,743.59 L597.77,743.71 L597.91,743.83 L598.06,743.94 L598.22,744.05 L598.37,744.15 L598.53,744.25 L598.70,744.34 L598.86,744.43 L599.03,744.50 L599.21,744.58 L599.38,744.64 L599.56,744.71 L599.74,744.76 L599.92,744.81 L600.10,744.85 L600.28,744.89 L600.47,744.92 L600.65,744.94 L600.84,744.96 L601.03,744.96 L601.21,744.97 L601.40,744.96 L601.59,744.96 L601.78,744.94 L601.96,744.92 L602.15,744.89 L602.33,744.85 L602.51,744.81 L602.69,744.76 L602.87,744.71 L603.05,744.64 L603.22,744.58 L603.40,744.50 L603.57,744.43 L603.73,744.34 L603.90,744.25 L604.06,744.15 L604.21,744.05 L604.37,743.94 L604.52,743.83 L604.66,743.71 L604.80,743.59 L604.94,743.46 L605.07,743.33 L605.20,743.19 L605.32,743.05 L605.44,742.91 L605.55,742.76 L605.66,742.60 L605.76,742.45 L605.86,742.29 L605.95,742.12 L606.04,741.96 Z" fill="#3f3f41"/>
<rect x="597.98" y="729.18" width="1.60" height="5.71" fill="#3f3f41"/>
<rect x="597.98" y="729.24" width="3.23" height="0.87" fill="#3f3f41"/>
<rect x="597.98" y="730.87" width="3.23" height="0.87" fill="#3f3f41"/>
<rect x="597.98" y="732.51" width="3.23" height="0.87" fill="#3f3f41"/>
<polygon points="596.65,734.24 611.90,734.24 610.92,739.60 595.85,739.60" fill="#3f3f41"/>
<text x="603.42" y="738.73" font-size="3.77" fill="#fff" text-anchor="middle" style="font-family:&quot;Liberation Sans&quot;,sans-serif" textLength="7.27" lengthAdjust="spacingAndGlyphs">SKV</text>
</svg>
</body></html>
